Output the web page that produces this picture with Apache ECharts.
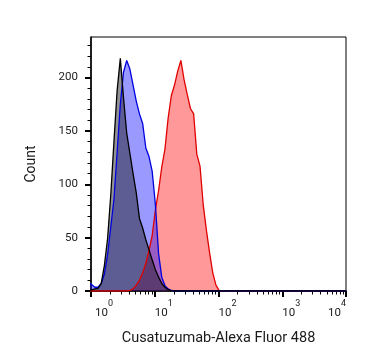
<!DOCTYPE html>
<html>
<head>
<meta charset="utf-8">
<script src="https://cdn.jsdelivr.net/npm/echarts@6/dist/echarts.min.js"></script>
<style>
html,body{margin:0;padding:0;background:#ffffff;}
#chart{width:367px;height:364px;}
</style>
</head>
<body>
<div id="chart"></div>
<script>
// Histogram bin centres, in decades (log10 of Alexa Fluor 488 intensity)
const binDecades = [-0.04, 0.01, 0.06, 0.11, 0.16, 0.21, 0.26, 0.31, 0.36, 0.41,
  0.46, 0.51, 0.56, 0.61, 0.66, 0.71, 0.76, 0.81, 0.86, 0.91,
  0.96, 1.01, 1.06, 1.11, 1.16, 1.21, 1.26, 1.31, 1.36, 1.41,
  1.46, 1.51, 1.56, 1.61, 1.66, 1.71, 1.76, 1.81, 1.86, 1.91,
  1.96, 2.01, 2.06, 2.11, 4.00];

// Counts per bin (grey / black outline)
const greyCounts = [1, 1, 2, 2.5, 7, 24, 49, 90, 140, 188,
  218, 181, 148, 129, 110, 92, 68, 59, 48, 38.5,
  29, 20, 13, 7, 3.5, 1.2, 0.4, 0, 0, 0,
  0, 0, 0, 0, 0, 0, 0, 0, 0, 0,
  0, 0, 0, 0, 0];

// Counts per bin (blue)
const blueCounts = [8, 6, 3.5, 3.5, 7, 16, 34, 60, 86, 130,
  175, 205, 216, 208, 193, 178, 166, 157, 134, 126,
  112, 81, 35, 13, 5, 2, 0.5, 0, 0, 0,
  0, 0, 0, 0, 0, 0, 0, 0, 0, 0,
  0, 0, 0, 0, 0];

// Counts per bin (red)
const redCounts = [0, 0, 0, 0, 0, 0, 0, 0, 0, 0,
  0, 0, 0, 0.5, 2, 5.5, 10, 17, 26, 38,
  52, 76, 94, 116, 133, 162, 183, 193, 206, 216,
  198, 184, 171, 166, 128, 117, 81, 57, 36, 17,
  5.5, 0.3, 0, 0, 0];

// Axis ticks
const xMajorDecades = [0, 1, 2, 3, 4];
const xMinorMultipliers = [2, 3, 4, 5, 6, 7, 8, 9];
const yMajorTicks = [0, 50, 100, 150, 200];
const yMinorTicks = [10, 20, 30, 40, 60, 70, 80, 90, 110, 120, 130, 140, 160, 170, 180, 190, 210, 220, 230];
const yMax = 238;

const xTitle = 'Cusatuzumab-Alexa Fluor 488';
const yTitle = 'Count';

const FONT = 'Roboto, "Liberation Sans", Arial, sans-serif';
const TEXT = '#1a1a1a';

const xMinorDecades = [];
xMajorDecades.slice(0, -1).forEach(function (d) {
  xMinorMultipliers.forEach(function (m) { xMinorDecades.push(d + Math.log10(m)); });
});

function pairs(vals) { return binDecades.map(function (b, i) { return [b, vals[i]]; }); }

const chart = echarts.init(document.getElementById('chart'), null, {renderer: 'canvas'});
chart.setOption({
  animation: false,
  backgroundColor: '#ffffff',
  grid: {left: 91, right: 21, top: 37, bottom: 73, show: true, borderColor: '#000', borderWidth: 1, backgroundColor: 'transparent'},
  xAxis: [{
    type: 'value', min: 0, max: 4, position: 'bottom',
    axisLine: {show: true, onZero: false, lineStyle: {color: '#000', width: 1.5}},
    axisTick: {show: true, inside: false, length: 6, customValues: xMajorDecades, lineStyle: {color: '#000', width: 2}},
    splitLine: {show: false},
    axisLabel: {
      show: true, margin: 8, align: 'left', alignMaxLabel: 'right',
      customValues: xMajorDecades,
      formatter: function (v) { return (v === 0 ? '{p0|}' : '{p|}') + '{b|10}{s|' + v + '}'; },
      rich: {
        p0: {width: 4, height: 20, lineHeight: 20},
        p: {width: 0, height: 20, lineHeight: 20},
        b: {fontSize: 11.5, fontFamily: FONT, color: TEXT, lineHeight: 12, verticalAlign: 'bottom'},
        s: {fontSize: 9, fontFamily: FONT, color: TEXT, lineHeight: 9, verticalAlign: 'top'}
      }
    },
    name: xTitle, nameLocation: 'middle', nameGap: 39,
    nameTextStyle: {fontSize: 14.5, fontFamily: FONT, color: TEXT, lineHeight: 17}
  }, {
    type: 'value', min: 0, max: 4, position: 'bottom',
    axisLine: {show: false, onZero: false},
    axisTick: {show: true, inside: false, length: 3.5, customValues: xMinorDecades, lineStyle: {color: '#000', width: 1}},
    axisLabel: {show: false},
    splitLine: {show: false}
  }],
  yAxis: [{
    type: 'value', min: 0, max: yMax, position: 'left',
    axisLine: {show: true, onZero: false, lineStyle: {color: '#000', width: 1.5}},
    axisTick: {show: true, inside: false, length: 6, customValues: yMajorTicks, lineStyle: {color: '#000', width: 2}},
    splitLine: {show: false},
    axisLabel: {show: true, margin: 13, customValues: yMajorTicks, fontSize: 11.5, fontFamily: FONT, color: TEXT},
    name: yTitle, nameLocation: 'middle', nameRotate: 90, nameGap: 52,
    nameTextStyle: {fontSize: 14, fontFamily: FONT, color: TEXT, lineHeight: 16}
  }, {
    type: 'value', min: 0, max: yMax, position: 'left',
    axisLine: {show: false, onZero: false},
    axisTick: {show: true, inside: false, length: 3.5, customValues: yMinorTicks, lineStyle: {color: '#000', width: 1}},
    axisLabel: {show: false},
    splitLine: {show: false}
  }],
  series: [{
    name: 'red', type: 'line', xAxisIndex: 0, yAxisIndex: 0, data: pairs(redCounts),
    symbol: 'none', smooth: false,
    lineStyle: {color: '#e00000', width: 1.3},
    areaStyle: {color: '#ff0000', opacity: 0.4}
  }, {
    name: 'blue', type: 'line', xAxisIndex: 0, yAxisIndex: 0, data: pairs(blueCounts),
    symbol: 'none', smooth: false,
    lineStyle: {color: '#0000dd', width: 1.3},
    areaStyle: {color: '#0000ff', opacity: 0.4}
  }, {
    name: 'grey', type: 'line', xAxisIndex: 0, yAxisIndex: 0, data: pairs(greyCounts),
    symbol: 'none', smooth: false,
    lineStyle: {color: '#000000', width: 1.3},
    areaStyle: {color: '#191919', opacity: 0.47}
  }]
});
</script>
</body>
</html>
